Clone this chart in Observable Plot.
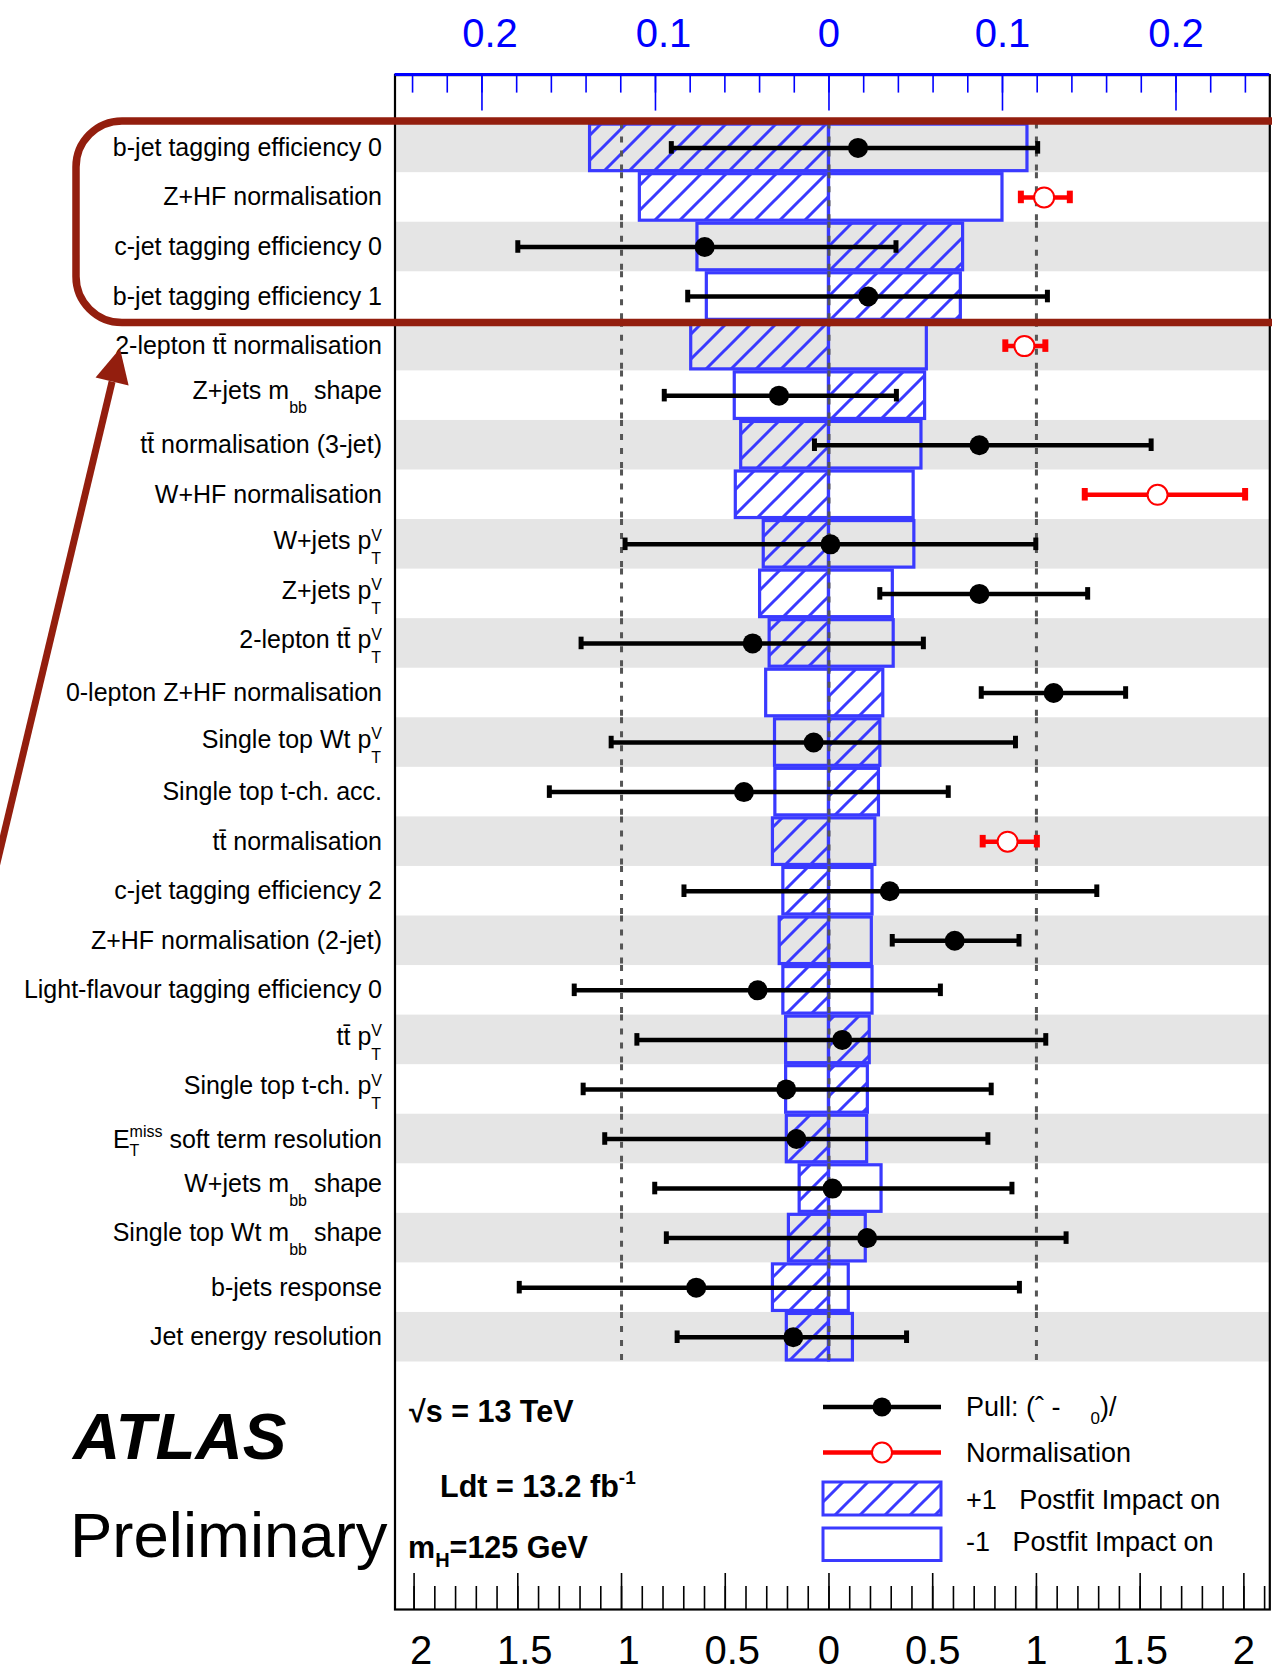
<!DOCTYPE html>
<html><head><meta charset="utf-8">
<script src="https://cdn.jsdelivr.net/npm/d3@7"></script>
<script src="https://cdn.jsdelivr.net/npm/@observablehq/plot@0.6"></script>
<style>
html,body{margin:0;padding:0;background:#fff;overflow:hidden;}
#chart svg{display:block;}
</style></head><body><div id="chart"></div>
<script>
// ---------------- DATA ----------------
const labels = [
  "b-jet tagging efficiency 0",
  "Z+HF normalisation",
  "c-jet tagging efficiency 0",
  "b-jet tagging efficiency 1",
  "2-lepton tt\u0304 normalisation",
  "Z+jets m_{bb} shape",
  "tt\u0304 normalisation (3-jet)",
  "W+HF normalisation",
  "W+jets p_{T}^{V}",
  "Z+jets p_{T}^{V}",
  "2-lepton tt\u0304 p_{T}^{V}",
  "0-lepton Z+HF normalisation",
  "Single top Wt p_{T}^{V}",
  "Single top t-ch. acc.",
  "tt\u0304 normalisation",
  "c-jet tagging efficiency 2",
  "Z+HF normalisation (2-jet)",
  "Light-flavour tagging efficiency 0",
  "tt\u0304 p_{T}^{V}",
  "Single top t-ch. p_{T}^{V}",
  "E_{T}^{miss} soft term resolution",
  "W+jets m_{bb} shape",
  "Single top Wt m_{bb} shape",
  "b-jets response",
  "Jet energy resolution"
];
// +1 sigma postfit impact on mu (hatched boxes)
const impactUp = [-0.1377, -0.109, 0.0773, 0.076, -0.0794, 0.0554, -0.0506, -0.0537, -0.0376, -0.0397,
  -0.0342, 0.0313, 0.0296, 0.0288, -0.0323, -0.0263, -0.0284, -0.0263, 0.0235, 0.0224,
  -0.0243, -0.0169, -0.0231, -0.0323, -0.0243];
// -1 sigma postfit impact on mu (open boxes)
const impactDown = [0.1144, 0.100, -0.0758, -0.0704, 0.0564, -0.0543, 0.0533, 0.0488, 0.0492, 0.0368,
  0.0373, -0.0362, -0.0311, -0.0309, 0.0267, 0.0251, 0.0247, 0.0251, -0.0247, -0.0247,
  0.022, 0.0303, 0.0212, 0.0114, 0.0138];
// pulls (or normalisation values) with their error bars
const pullCentral = [0.140, 1.037, -0.599, 0.189, 0.942, -0.241, 0.725, 1.584, 0.007, 0.725,
  -0.368, 1.083, -0.074, -0.410, 0.861, 0.293, 0.606, -0.344, 0.064, -0.206,
  -0.157, 0.017, 0.184, -0.640, -0.172];
const pullLow = [-0.760, 0.925, -1.50, -0.681, 0.850, -0.794, -0.070, 1.233, -0.983, 0.245,
  -1.195, 0.734, -1.050, -1.348, 0.741, -0.699, 0.305, -1.228, -0.926, -1.185,
  -1.081, -0.840, -0.784, -1.493, -0.732];
const pullHigh = [1.006, 1.161, 0.323, 1.053, 1.043, 0.325, 1.553, 2.006, 0.997, 1.247,
  0.455, 1.430, 0.899, 0.575, 1.002, 1.291, 0.916, 0.537, 1.045, 0.782,
  0.766, 0.882, 1.143, 0.918, 0.374];
const isNormalisation = [false, true, false, false, true, false, false, true, false, false,
  false, false, false, false, true, false, false, false, false, false,
  false, false, false, false, false];

// axis ticks and labels
const topMajorTicks = [-0.2, -0.1, 0, 0.1, 0.2];
const topTickLabels = ["0.2", "0.1", "0", "0.1", "0.2"];
const topMinorTicks = d3.range(-12, 13).map(i => i * 0.02);
const bottomMajorTicks = [-2, -1.5, -1, -0.5, 0, 0.5, 1, 1.5, 2];
const bottomTickLabels = ["2", "1.5", "1", "0.5", "0", "0.5", "1", "1.5", "2"];
const bottomMinorTicks = d3.range(-20, 22).map(i => i / 10);
const refLines = [-1, 0, 1];

// ---------------- LAYOUT ----------------
const W = 1272, H = 1672;
const mL = 394.5, mR = 2.7, mT = 74.6, mB = 63;
const frameH = H - mT - mB;
const X0 = -2.092, X1 = 2.125;     // pull axis domain
const K = 8.364;                    // pull units per unit of impact on mu (top axis)
const BLUE = "#3a3aff", AXBLUE = "#0000ff", RED = "#ff0000", DARKRED = "#931e0e";
const FONT = "'Liberation Sans', Arial, Helvetica, sans-serif";

const rows = labels.map((label, i) => ({
  label, up: impactUp[i], down: impactDown[i],
  v: pullCentral[i], lo: pullLow[i], hi: pullHigh[i], norm: isNormalisation[i], shade: i % 2 === 0
}));
const pulls = rows.filter(d => !d.norm);
const norms = rows.filter(d => d.norm);
const dashed = rows.flatMap(d => refLines.map(x => ({label: d.label, x})));
const plain = s => s.replace(/[_^]\{([^}]*)\}/g, "$1");
const capInset = 18.5;
const topLab = topMajorTicks.map((t, i) => ({t, s: topTickLabels[i]}));
const botLab = bottomMajorTicks.map((t, i) => ({t, s: bottomTickLabels[i]}));

const plot = Plot.plot({
  width: W, height: H,
  marginLeft: mL, marginRight: mR, marginTop: mT, marginBottom: mB,
  style: {fontFamily: FONT, background: "#fff", overflow: "hidden"},
  x: {domain: [X0, X1], axis: null},
  y: {type: "band", domain: labels, range: [122.6, 1361.5], padding: 0, round: false, axis: null},
  marks: [
    Plot.barX(rows.filter(d => d.shade), {y: "label", x1: X0, x2: X1, fill: "#e5e5e5"}),
    Plot.barX(rows, {y: "label", x1: 0, x2: d => d.down * K, fill: "none", stroke: BLUE, strokeWidth: 3.2, insetTop: 1.5, insetBottom: 1.5}),
    Plot.barX(rows, {y: "label", x1: 0, x2: d => d.up * K, fill: "url(#hatch)", stroke: BLUE, strokeWidth: 3.2, insetTop: 1.5, insetBottom: 1.5}),
    Plot.tickX(dashed, {x: "x", y: "label", stroke: "#555", strokeWidth: 3, strokeDasharray: "6,8"}),
    // pulls
    Plot.ruleY(pulls, {y: "label", x1: "lo", x2: "hi", stroke: "black", strokeWidth: 4.5}),
    Plot.tickX(pulls, {x: "lo", y: "label", stroke: "black", strokeWidth: 5, insetTop: capInset, insetBottom: capInset}),
    Plot.tickX(pulls, {x: "hi", y: "label", stroke: "black", strokeWidth: 5, insetTop: capInset, insetBottom: capInset}),
    Plot.dot(pulls, {x: "v", y: "label", r: 10, fill: "black"}),
    // normalisations
    Plot.ruleY(norms, {y: "label", x1: "lo", x2: "hi", stroke: RED, strokeWidth: 4.5}),
    Plot.tickX(norms, {x: "lo", y: "label", stroke: RED, strokeWidth: 6, insetTop: capInset, insetBottom: capInset}),
    Plot.tickX(norms, {x: "hi", y: "label", stroke: RED, strokeWidth: 6, insetTop: capInset, insetBottom: capInset}),
    Plot.dot(norms, {x: "v", y: "label", r: 10, fill: "white", stroke: RED, strokeWidth: 2}),
    // frame
    Plot.frame({stroke: "black", strokeWidth: 2.2}),
    // top axis (impact on mu)
    Plot.ruleX(topMinorTicks, {x: d => d * K, stroke: AXBLUE, strokeWidth: 1.6, insetBottom: frameH - 18}),
    Plot.ruleX(topMajorTicks, {x: d => d * K, stroke: AXBLUE, strokeWidth: 1.6, insetBottom: frameH - 36}),
    Plot.text(topLab.filter(d => d.t < 0), {x: d => d.t * K, text: "s", frameAnchor: "top", lineAnchor: "middle", dy: -40.7, dx: 8, fontSize: 40, fill: AXBLUE}),
    Plot.text(topLab.filter(d => d.t >= 0), {x: d => d.t * K, text: "s", frameAnchor: "top", lineAnchor: "middle", dy: -40.7, fontSize: 40, fill: AXBLUE}),
    // bottom axis (pull)
    Plot.ruleX(bottomMinorTicks, {x: d => d, stroke: "black", strokeWidth: 1.6, insetTop: frameH - 23}),
    Plot.ruleX(bottomMajorTicks, {x: d => d, stroke: "black", strokeWidth: 1.6, insetTop: frameH - 36}),
    Plot.text(botLab.filter(d => d.t < 0), {x: "t", text: "s", frameAnchor: "bottom", lineAnchor: "middle", dy: 41.5, dx: 7, fontSize: 40, fill: "black"}),
    Plot.text(botLab.filter(d => d.t >= 0), {x: "t", text: "s", frameAnchor: "bottom", lineAnchor: "middle", dy: 41.5, fontSize: 40, fill: "black"}),
    // category labels
    Plot.axisY({tickSize: 0, tickPadding: 13, fontSize: 25, tickFormat: plain, label: null, fill: "black"})
  ]
});
document.getElementById("chart").appendChild(plot);
const svg = d3.select(plot);

// ---------- post-processing ----------
const NS = "http://www.w3.org/2000/svg";
const defs = svg.insert("defs", ":first-child");
const HP = 25;
const pat = defs.append("pattern").attr("id", "hatch").attr("patternUnits", "userSpaceOnUse")
  .attr("width", HP).attr("height", HP);
pat.append("path").attr("d", `M-3,3 L3,-3 M0,${HP} L${HP},0 M${HP - 3},${HP + 3} L${HP + 3},${HP - 3}`)
  .attr("stroke", BLUE).attr("stroke-width", 3).attr("fill", "none");

// top axis line in blue
svg.append("line").attr("x1", mL).attr("x2", W - mR).attr("y1", mT).attr("y2", mT)
  .attr("stroke", AXBLUE).attr("stroke-width", 3);

// rich category labels (sub/superscripts)
function parse(markup) {
  const toks = []; const re = /([_^])\{([^}]*)\}/g; let last = 0, m;
  while ((m = re.exec(markup))) {
    if (m.index > last) toks.push({t: "n", s: markup.slice(last, m.index)});
    toks.push({t: m[1] === "_" ? "sub" : "sup", s: m[2]});
    last = re.lastIndex;
  }
  if (last < markup.length) toks.push({t: "n", s: markup.slice(last)});
  return toks;
}
function styleFor(markup) {
  const i = markup.indexOf("_{");
  const c = i > 0 ? markup[i - 1] : "";
  if (c === "m") return {shift: -5, sub: 14, sup: -9, small: 16};
  if (c === "p") return {shift: -3, sub: 15, sup: -8.5, small: 16};
  if (c === "E") return {shift: 1, sub: 8, sup: -11, small: 16};
  return {shift: 0, sub: 10, sup: -9, small: 16};
}
function buildRich(el, markup, o) {
  const toks = parse(markup);
  if (toks.length === 1 && toks[0].t === "n") return;
  while (el.firstChild) el.removeChild(el.firstChild);
  let cur = 0;
  const base = o.shift;
  for (let i = 0; i < toks.length; i++) {
    const tk = toks[i];
    const ts = document.createElementNS(NS, "tspan");
    ts.textContent = tk.s;
    let target = base;
    if (tk.t === "sub") target = base + o.sub;
    if (tk.t === "sup") target = base + o.sup;
    if (tk.t !== "n") ts.setAttribute("font-size", o.small);
    if (target !== cur) ts.setAttribute("dy", target - cur);
    cur = target;
    el.appendChild(ts);
    if (tk.t === "sub" && toks[i + 1] && toks[i + 1].t === "sup") {
      const w = ts.getComputedTextLength();
      const t2 = document.createElementNS(NS, "tspan");
      t2.textContent = toks[i + 1].s;
      t2.setAttribute("font-size", o.small);
      t2.setAttribute("dx", -w);
      t2.setAttribute("dy", (base + o.sup) - cur);
      cur = base + o.sup;
      el.appendChild(t2);
      i++;
    }
  }
}
svg.selectAll('g[aria-label="y-axis tick label"] text').each(function (d, i) {
  const markup = labels[i];
  buildRich(this, markup, styleFor(markup));
});

// ---------- legend & text inside the frame ----------
const g = svg.append("g").attr("font-family", FONT).attr("text-anchor", "start");
const LEG = {x1: 823, x2: 941, yPull: 1407, yNorm: 1452.5, hatchY: [1482, 1515], openY: [1528, 1560.5], textX: 966};
g.append("line").attr("x1", LEG.x1).attr("x2", LEG.x2).attr("y1", LEG.yPull).attr("y2", LEG.yPull)
  .attr("stroke", "black").attr("stroke-width", 4.5);
g.append("circle").attr("cx", (LEG.x1 + LEG.x2) / 2).attr("cy", LEG.yPull).attr("r", 9.5).attr("fill", "black");
g.append("line").attr("x1", LEG.x1).attr("x2", LEG.x2).attr("y1", LEG.yNorm).attr("y2", LEG.yNorm)
  .attr("stroke", RED).attr("stroke-width", 4.5);
g.append("circle").attr("cx", (LEG.x1 + LEG.x2) / 2).attr("cy", LEG.yNorm).attr("r", 10)
  .attr("fill", "white").attr("stroke", RED).attr("stroke-width", 2);
g.append("rect").attr("x", LEG.x1).attr("y", LEG.hatchY[0]).attr("width", LEG.x2 - LEG.x1)
  .attr("height", LEG.hatchY[1] - LEG.hatchY[0]).attr("fill", "url(#hatch)").attr("stroke", BLUE).attr("stroke-width", 3);
g.append("rect").attr("x", LEG.x1).attr("y", LEG.openY[0]).attr("width", LEG.x2 - LEG.x1)
  .attr("height", LEG.openY[1] - LEG.openY[0]).attr("fill", "none").attr("stroke", BLUE).attr("stroke-width", 3);

function richText(parent, x, y, parts, attrs) {
  const t = parent.append("text").attr("x", x).attr("y", y);
  for (const k in attrs) t.attr(k, attrs[k]);
  let cur = 0;
  for (const p of parts) {
    const ts = t.append("tspan").text(p.s);
    const target = p.dy || 0;
    if (target !== cur) ts.attr("dy", target - cur);
    cur = target;
    if (p.size) ts.attr("font-size", p.size);
    if (p.dx) ts.attr("dx", p.dx);
  }
  return t;
}
const legAttrs = {"font-size": 27, fill: "black"};
richText(g, LEG.textX, 1416, [{s: "Pull: (\u02c6 -    "}, {s: "0", dy: 8, size: 17}, {s: ")/", dy: 0}], legAttrs);
richText(g, LEG.textX, 1461.5, [{s: "Normalisation"}], legAttrs);
richText(g, LEG.textX, 1508.5, [{s: "+1   Postfit Impact on "}], legAttrs);
richText(g, LEG.textX, 1551, [{s: "-1   Postfit Impact on "}], legAttrs);

const boldAttrs = {"font-size": 30.5, "font-weight": "bold", fill: "black"};
richText(g, 409, 1421.5, [{s: "\u221As = 13 TeV"}], boldAttrs);
richText(g, 440, 1496.5, [{s: "Ldt = 13.2 fb"}, {s: "-1", dy: -13, size: 19}], boldAttrs);
richText(g, 408, 1558, [{s: "m"}, {s: "H", dy: 9, size: 20}, {s: "=125 GeV", dy: 0}], boldAttrs);

// ATLAS Preliminary
g.append("text").attr("x", 73).attr("y", 1459).attr("font-size", 65.5).attr("font-weight", "bold")
  .attr("font-style", "italic").attr("fill", "black").text("ATLAS");
g.append("text").attr("x", 70).attr("y", 1557).attr("font-size", 63.5).attr("fill", "black").text("Preliminary");

// ---------- highlight annotation ----------
const ys = plot.scale("y");
const bw = ys.bandwidth;
const hlTop = ys.apply(labels[0]) - 1.6;
const hlBot = ys.apply(labels[3]) + bw + 1.7;
const a = svg.append("g");
a.append("rect").attr("x", 76).attr("y", hlTop).attr("width", 1300).attr("height", hlBot - hlTop)
  .attr("rx", 46).attr("ry", 46).attr("fill", "none").attr("stroke", DARKRED).attr("stroke-width", 7.5);
const tip = [120, 348.5];
const dir = [-0.2325, 0.9726];
const headLen = 34, headHalf = 17;
const base = [tip[0] + dir[0] * headLen, tip[1] + dir[1] * headLen];
const perp = [dir[1], -dir[0]];
const tail = [tip[0] + dir[0] * 580, tip[1] + dir[1] * 580];
a.append("line").attr("x1", base[0]).attr("y1", base[1]).attr("x2", tail[0]).attr("y2", tail[1])
  .attr("stroke", DARKRED).attr("stroke-width", 7);
a.append("path").attr("d", `M${tip[0]},${tip[1]} L${base[0] + perp[0] * headHalf},${base[1] + perp[1] * headHalf} L${base[0] - perp[0] * headHalf},${base[1] - perp[1] * headHalf} Z`)
  .attr("fill", DARKRED);
</script>
</body></html>
